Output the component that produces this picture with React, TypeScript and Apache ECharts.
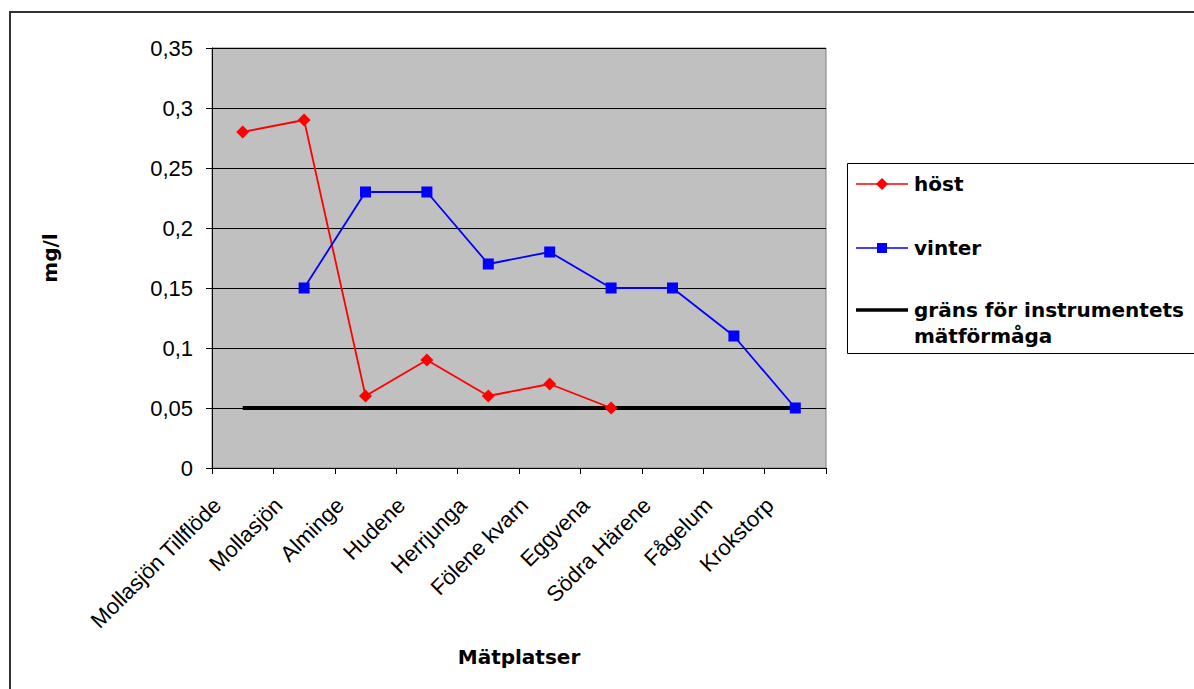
import React, { useEffect, useRef } from "react";
import * as echarts from "echarts";

// Sampling sites along the river
const categories = [
  "Mollasjön Tillflöde",
  "Mollasjön",
  "Alminge",
  "Hudene",
  "Herrjunga",
  "Fölene kvarn",
  "Eggvena",
  "Södra Härene",
  "Fågelum",
  "Krokstorp",
];

// Concentrations, mg/l
const host = [0.28, 0.29, 0.06, 0.09, 0.06, 0.07, 0.05, null, null, null];
const vinter = [null, 0.15, 0.23, 0.23, 0.17, 0.18, 0.15, 0.15, 0.11, 0.05];
const grans = [0.05, 0.05, 0.05, 0.05, 0.05, 0.05, 0.05, 0.05, 0.05, 0.05];

const seriesNames = ["höst", "vinter", "gräns för instrumentets\nmätförmåga"];

const yMax = 0.35;
const yStep = 0.05;

const REG = "Liberation Sans, Arial, sans-serif";
const BOLD = "DejaVu Sans, Verdana, sans-serif";

export default function App() {
  const ref = useRef<HTMLDivElement>(null);

  useEffect(() => {
    if (!ref.current) return;
    const chart = echarts.init(ref.current, undefined, { renderer: "svg" });

    const legendX = 847;
    const lineX0 = 856;
    const lineX1 = 908;
    const markX = 882;
    const textX = 914;
    const rowY = [184, 248, 310];

    chart.setOption({
      animation: false,
      backgroundColor: "#ffffff",
      grid: {
        left: 212,
        top: 48,
        right: 368,
        bottom: 221,
        show: true,
        backgroundColor: "#C0C0C0",
        borderColor: "#808080",
        borderWidth: 1,
      },
      xAxis: {
        type: "category",
        data: categories,
        boundaryGap: true,
        name: "Mätplatser",
        nameLocation: "middle",
        nameGap: 179,
        nameTextStyle: { fontFamily: BOLD, fontWeight: "bold", fontSize: 20, color: "#000" },
        axisLine: { show: true, lineStyle: { color: "#000", width: 1 } },
        axisTick: { show: true, inside: false, length: 6, lineStyle: { color: "#000" } },
        axisLabel: {
          interval: 0,
          rotate: 45,
          margin: 8,
          padding: [0, 36, 0, 0],
          fontFamily: REG,
          fontSize: 22,
          color: "#000",
        },
        splitLine: { show: false },
      },
      yAxis: {
        type: "value",
        min: 0,
        max: yMax,
        interval: yStep,
        name: "mg/l",
        nameLocation: "middle",
        nameGap: 152,
        nameRotate: 90,
        nameTextStyle: { fontFamily: BOLD, fontWeight: "bold", fontSize: 20, color: "#000" },
        axisLine: { show: true, lineStyle: { color: "#000", width: 1 } },
        axisTick: { show: true, inside: false, length: 6, lineStyle: { color: "#000" } },
        axisLabel: {
          margin: 19,
          fontFamily: REG,
          fontSize: 22,
          color: "#000",
          formatter: (v: number) => String(Number(v.toFixed(2))).replace(".", ","),
        },
        splitLine: { show: true, lineStyle: { color: "#000", width: 1 } },
      },
      series: [
        {
          name: seriesNames[2],
          type: "line",
          data: grans,
          symbol: "none",
          lineStyle: { color: "#000", width: 4 },
          z: 2,
        },
        {
          name: seriesNames[0],
          type: "line",
          data: host,
          symbol: "diamond",
          symbolSize: 13,
          itemStyle: { color: "#FF0000" },
          lineStyle: { color: "#FF0000", width: 1.8 },
          z: 3,
        },
        {
          name: seriesNames[1],
          type: "line",
          data: vinter,
          symbol: "rect",
          symbolSize: 11,
          itemStyle: { color: "#0000FF" },
          lineStyle: { color: "#0000FF", width: 1.8 },
          z: 4,
        },
      ],
      graphic: [
        // outer chart frame
        {
          type: "rect",
          shape: { x: 10, y: 12, width: 1400, height: 900 },
          style: { fill: "none", stroke: "#333", lineWidth: 2 },
          silent: true,
        },
        // legend box
        {
          type: "rect",
          shape: { x: legendX + 0.5, y: 163.5, width: 400, height: 190 },
          style: { fill: "#fff", stroke: "#000", lineWidth: 1 },
          silent: true,
        },
        {
          type: "line",
          shape: { x1: lineX0, y1: rowY[0], x2: lineX1, y2: rowY[0] },
          style: { stroke: "#FF0000", lineWidth: 1.5 },
        },
        {
          type: "polygon",
          shape: {
            points: [
              [markX, rowY[0] - 6],
              [markX + 6, rowY[0]],
              [markX, rowY[0] + 6],
              [markX - 6, rowY[0]],
            ],
          },
          style: { fill: "#FF0000" },
        },
        {
          type: "text",
          x: textX,
          y: rowY[0],
          style: {
            text: seriesNames[0],
            fontFamily: BOLD,
            fontWeight: "bold",
            fontSize: 20,
            fill: "#000",
            verticalAlign: "middle",
          },
        },
        {
          type: "line",
          shape: { x1: lineX0, y1: rowY[1], x2: lineX1, y2: rowY[1] },
          style: { stroke: "#0000FF", lineWidth: 1.5 },
        },
        {
          type: "rect",
          shape: { x: markX - 5, y: rowY[1] - 5, width: 10, height: 10 },
          style: { fill: "#0000FF" },
        },
        {
          type: "text",
          x: textX,
          y: rowY[1],
          style: {
            text: seriesNames[1],
            fontFamily: BOLD,
            fontWeight: "bold",
            fontSize: 20,
            fill: "#000",
            verticalAlign: "middle",
          },
        },
        {
          type: "line",
          shape: { x1: lineX0, y1: rowY[2], x2: lineX1, y2: rowY[2] },
          style: { stroke: "#000", lineWidth: 3.5 },
        },
        {
          type: "text",
          x: textX,
          y: rowY[2] - 13,
          style: {
            text: seriesNames[2],
            fontFamily: BOLD,
            fontWeight: "bold",
            fontSize: 20,
            lineHeight: 26,
            fill: "#000",
            verticalAlign: "top",
          },
        },
      ],
    });

    return () => chart.dispose();
  }, []);

  return (
    <div
      ref={ref}
      style={{ position: "fixed", left: 0, top: 0, width: 1194, height: 689 }}
    />
  );
}
